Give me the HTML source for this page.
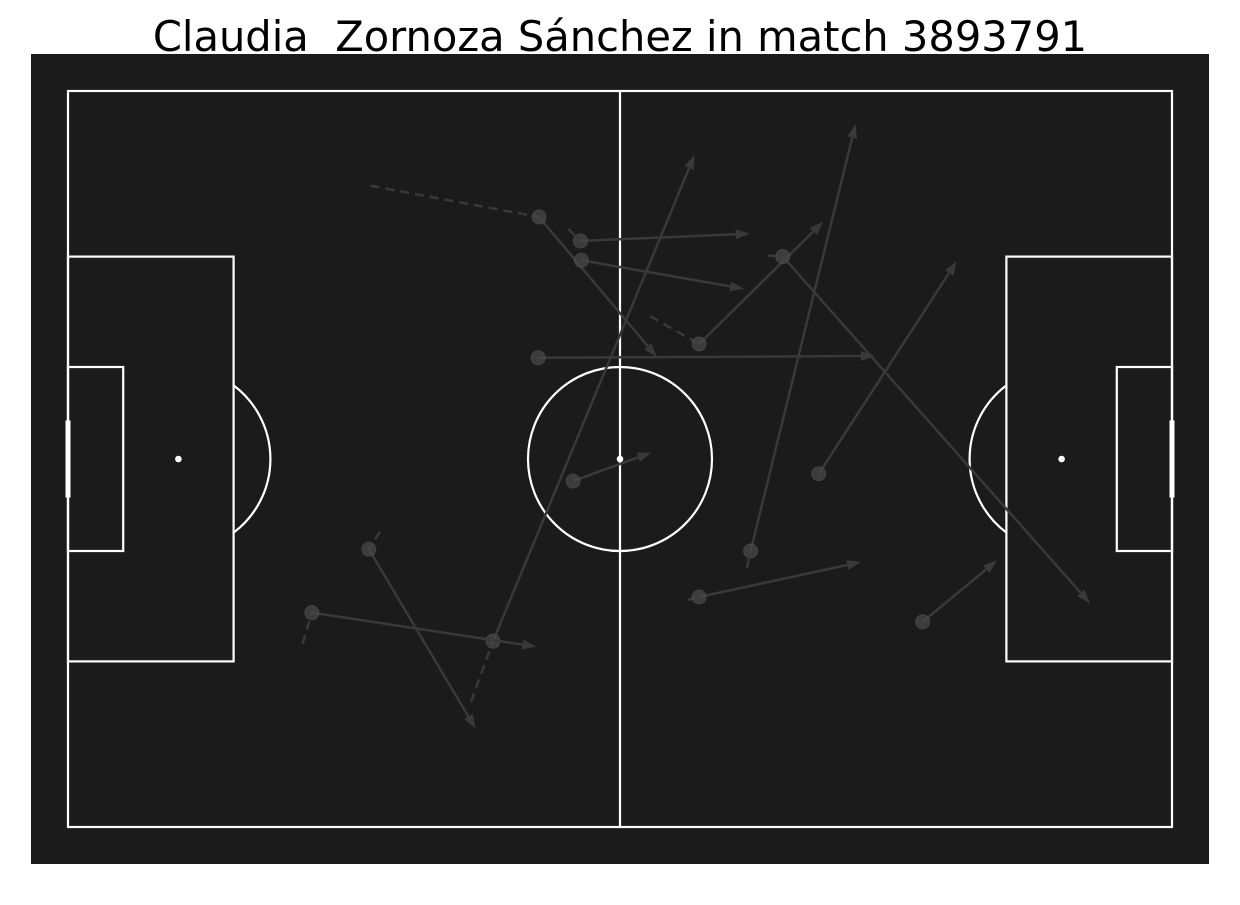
<!DOCTYPE html>
<html><head><meta charset="utf-8"><style>
body{margin:0;background:#fff;width:1240px;height:900px;overflow:hidden}
</style></head><body>
<svg width="1240" height="900" viewBox="0 0 1240 900">
<text x="620" y="51" text-anchor="middle" xml:space="preserve" style="white-space:pre" font-family="DejaVu Sans, Liberation Sans, sans-serif" font-size="41.6" fill="#000">Claudia  Zornoza Sánchez in match 3893791</text>
<rect x="31" y="54" width="1178" height="810" fill="#1b1b1b"/>
<g id="lines" stroke="#fff" stroke-width="2.2" fill="none"></g>
<g id="marks"></g>
</svg>
<script>
const passStartX=[51.2,55.7,55.8,51.1,68.6,77.7,54.9,46.2,74.2,81.6,32.7,26.5,68.6,92.9];
const passStartY=[13.7,16.3,18.4,29.0,27.5,18.0,42.4,59.8,50.0,41.6,49.8,56.7,55.0,57.7];
const passEndX=[64.0,74.1,73.5,87.7,82.1,111.1,63.4,68.1,85.6,96.6,44.3,50.9,86.2,101.0];
const passEndY=[28.9,15.5,21.5,28.8,14.2,55.7,39.3,6.96,3.6,18.5,69.3,60.4,51.2,51.0];
const carryStartX=[32.9,54.4,63.3,76.1,33.9,25.5,43.8,73.8,67.4];
const carryStartY=[10.3,15.0,24.5,17.9,47.9,60.1,66.4,51.8,55.3];
const carryEndX=[51.2,55.7,68.6,77.7,32.7,26.5,46.2,74.2,68.6];
const carryEndY=[13.7,16.3,27.5,18.0,49.8,56.7,59.8,50.0,55.0];
const S=9.2, X0=68, Y0=91;
const sx=v=>X0+v*S, sy=v=>Y0+v*S;
const NS='http://www.w3.org/2000/svg';
function mk(tag,attrs,parent){const e=document.createElementNS(NS,tag);for(const k in attrs)e.setAttribute(k,attrs[k]);parent.appendChild(e);return e;}
const L=document.getElementById('lines'), M=document.getElementById('marks');
let e;
e=mk('rect',{x:sx(0),y:sy(0),width:120*S,height:80*S},L);


e=mk('line',{x1:sx(60),y1:sy(0),x2:sx(60),y2:sy(80)},L);


e=mk('circle',{cx:sx(60),cy:sy(40),r:10*S},L);


e=mk('circle',{cx:sx(60),cy:sy(40),r:2.2,fill:'#fff'},L);


[0,1].forEach(side=>{
  const f=v=>side?120-v:v;
  const nm=side?'right':'left';
  e=mk('rect',{x:sx(Math.min(f(0),f(18))),y:sy(18),width:18*S,height:44*S},L);
  
  
  e=mk('rect',{x:sx(Math.min(f(0),f(6))),y:sy(30),width:6*S,height:20*S},L);
  
  
  e=mk('circle',{cx:sx(f(12)),cy:sy(40),r:2.2,fill:'#fff'},L);
  
  
  const dy=Math.sqrt(100-36);
  e=mk('path',{d:`M${sx(f(18))},${sy(40-dy)} A${10*S},${10*S} 0 0 ${side?0:1} ${sx(f(18))},${sy(40+dy)}`},L);
  
  
  e=mk('line',{x1:sx(f(0)),y1:sy(35.8),x2:sx(f(0)),y2:sy(44.2),'stroke-width':5},L);
  
  
});
const col='#393939';
carryStartX.forEach((v,i)=>{
  const c=mk('line',{x1:sx(v),y1:sy(carryStartY[i]),x2:sx(carryEndX[i]),y2:sy(carryEndY[i]),stroke:col,'stroke-width':2.5,'stroke-dasharray':'9,6'},M);
  
  
});
passStartX.forEach((v,i)=>{
  const x1=sx(v),y1=sy(passStartY[i]),x2=sx(passEndX[i]),y2=sy(passEndY[i]);
  const a=Math.atan2(y2-y1,x2-x1),h=14,w=5;
  const bx=x2-h*Math.cos(a),by=y2-h*Math.sin(a);
  const p=mk('line',{x1:x1,y1:y1,x2:bx,y2:by,stroke:col,'stroke-width':2.5},M);
  
  
  const hd=mk('polygon',{points:`${x2},${y2} ${bx-w*Math.sin(a)},${by+w*Math.cos(a)} ${bx+w*Math.sin(a)},${by-w*Math.cos(a)}`,fill:col},M);
  
  
  const c=mk('circle',{cx:x1,cy:y1,r:7,fill:'#4a4a4a',stroke:'#555','stroke-width':1,opacity:0.7},M);
  
  
});
</script>
</body></html>
